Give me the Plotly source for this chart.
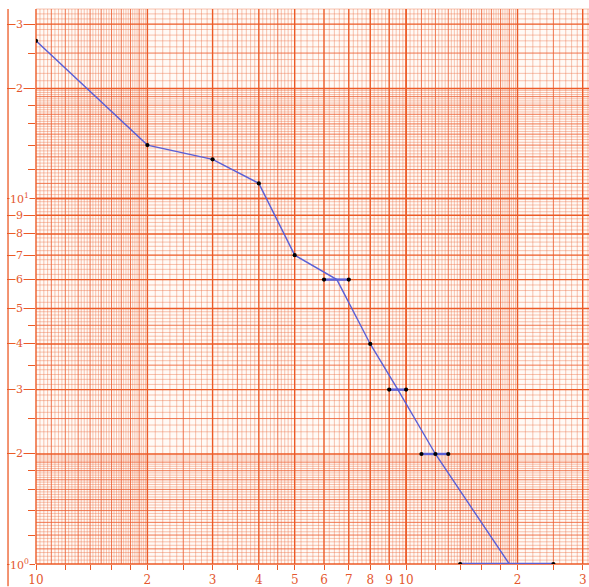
import math
import plotly.graph_objects as go

# ---- measured series (log-log) ----
x_pts = [10, 20, 30, 40, 50, 65, 80, 95, 120, 190]
y_pts = [27, 14, 12.8, 11, 7, 6, 4, 3, 2, 1]
dotted = [True, True, True, True, True, False, True, False, True, False]

# horizontal spread bars: level, left end, right end
bar_y = [6, 3, 2, 1]
bar_lo = [60, 90, 110, 140]
bar_hi = [70, 100, 130, 250]

# ---- axis labelling ----
x_tickvals = [10, 20, 30, 40, 50, 60, 70, 80, 90, 100, 200, 300]
x_ticktext = ["10", "2", "3", "4", "5", "6", "7", "8", "9", "10", "2", "3"]
x_minor = [12, 14, 16, 18, 25, 35, 45, 120, 140, 160, 180, 250]

y_tickvals = [1, 2, 3, 4, 5, 6, 7, 8, 9, 10, 20, 30]
y_ticktext = ["10<sup>0</sup>", "2", "3", "4", "5", "6", "7", "8", "9",
              "10<sup>1</sup>", "2", "3"]
y_minor = [1.2, 1.4, 1.6, 1.8, 2.5, 3.5, 4.5, 12, 14, 16, 18, 25]

X_MIN, X_MAX = 10, 312
Y_MIN, Y_MAX = 1, 33

ORANGE = "#ec5a26"
LABEL = "#e4572e"
BLUE = "#5a5fd6"


def paper_rulings(bases, limit):
    """Log graph-paper rulings split into minor / medium / major sets."""
    minor, medium, major = [], [], []
    for b in bases:
        for k in range(40, 80):          # 1 - 2 in steps of 0.025
            v = k * 0.025 * b
            (major if k % 40 == 0 else medium if k % 4 == 0 else minor).append(v)
        for k in range(20, 50):          # 2 - 5 in steps of 0.1
            v = k * 0.1 * b
            (major if k % 10 == 0 else medium if k % 5 == 0 else minor).append(v)
        for k in range(25, 51):          # 5 - 10 in steps of 0.2
            v = k * 0.2 * b
            (major if k % 5 == 0 else minor).append(v)
    keep = lambda vals: [v for v in vals if v <= limit * 1.0001]
    return keep(minor), keep(medium), keep(major)


def frac(v, lo, hi):
    """Position of v on a log axis spanning lo..hi, as a 0-1 fraction."""
    return (math.log10(v) - math.log10(lo)) / (math.log10(hi) - math.log10(lo))


fig = go.Figure()

# graph-paper rulings as background shapes (always beneath the traces)
vx = paper_rulings([10, 100], X_MAX)
hy = paper_rulings([1, 10], Y_MAX)
styles = [("rgba(236,112,70,0.6)", 0.7),
          ("rgba(236,95,50,0.85)", 1.0),
          (ORANGE, 1.4)]
shapes = []
for level, (col, w) in enumerate(styles):
    for v in vx[level]:
        f = frac(v, X_MIN, X_MAX)
        shapes.append(dict(type="line", xref="paper", yref="paper", layer="below",
                           x0=f, x1=f, y0=0, y1=1, line=dict(color=col, width=w)))
    for v in hy[level]:
        f = frac(v, Y_MIN, Y_MAX)
        shapes.append(dict(type="line", xref="paper", yref="paper", layer="below",
                           x0=0, x1=1, y0=f, y1=f, line=dict(color=col, width=w)))

# left margin rule
shapes.append(dict(type="line", xref="paper", yref="paper",
                   x0=-0.0506, x1=-0.0506, y0=-0.04, y1=1.0,
                   line=dict(color=ORANGE, width=1.3)))

# main curve
fig.add_trace(go.Scatter(x=x_pts, y=y_pts, mode="lines",
                         line=dict(color=BLUE, width=1.4),
                         hoverinfo="skip", showlegend=False))

# spread bars, each as a short polyline through three points
for yv, lo, hi in zip(bar_y, bar_lo, bar_hi):
    mid = math.sqrt(lo * hi)
    fig.add_trace(go.Scatter(x=[lo, mid, hi], y=[yv, yv, yv], mode="lines",
                             line=dict(color=BLUE, width=2.4, simplify=False),
                             cliponaxis=False,
                             hoverinfo="skip", showlegend=False))

# dots: curve vertices plus bar ends
dx = [x for x, d in zip(x_pts, dotted) if d] + bar_lo + bar_hi
dy = [y for y, d in zip(y_pts, dotted) if d] + bar_y + bar_y
fig.add_trace(go.Scatter(x=dx, y=dy, mode="markers",
                         marker=dict(color="black", size=4.2),
                         hoverinfo="skip", showlegend=False))

label_font = dict(family="DejaVu Serif", size=11, color=LABEL)

fig.update_xaxes(type="log", range=[math.log10(X_MIN), math.log10(X_MAX)],
                 showgrid=False, zeroline=False, showline=False,
                 tickmode="array", tickvals=x_tickvals, ticktext=x_ticktext,
                 ticks="outside", ticklen=5, tickwidth=1.2, tickcolor=ORANGE,
                 tickfont=dict(family="DejaVu Serif", size=12, color=LABEL),
                 minor=dict(tickmode="array", tickvals=x_minor, ticks="outside",
                            ticklen=5, tickwidth=1.1, tickcolor=ORANGE,
                            showgrid=False))
fig.update_yaxes(type="log", range=[math.log10(Y_MIN), math.log10(Y_MAX)],
                 showgrid=False, zeroline=False, showline=False,
                 showticklabels=False,
                 tickmode="array", tickvals=y_tickvals,
                 ticks="outside", ticklen=28, tickwidth=1.2, tickcolor=ORANGE,
                 minor=dict(tickmode="array", tickvals=y_minor, ticks="outside",
                            ticklen=7, tickwidth=1.1, tickcolor=ORANGE,
                            showgrid=False))

# y labels sit on their tick dashes
for v, t in zip(y_tickvals, y_ticktext):
    fig.add_annotation(x=-0.029, xref="paper", y=math.log10(v), yref="y",
                       text=t, showarrow=False, font=label_font,
                       bgcolor="white", borderpad=0, xanchor="center",
                       yanchor="middle")

fig.update_layout(width=589, height=587, shapes=shapes,
                  margin=dict(l=36, r=0, t=9, b=21),
                  paper_bgcolor="white", plot_bgcolor="#fffaf6")

fig.write_html("out.html")
